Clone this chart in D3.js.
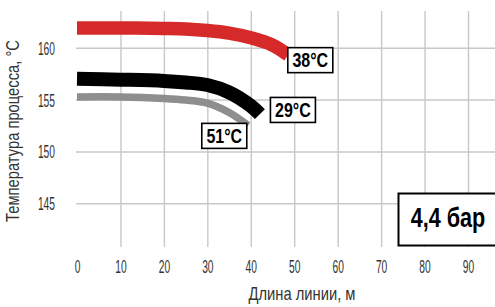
<!DOCTYPE html>
<html>
<head>
<meta charset="utf-8">
<script src="https://cdn.jsdelivr.net/npm/d3@7"></script>
<style>
  html, body { margin: 0; padding: 0; background: #fff; }
  svg { display: block; }
</style>
</head>
<body>
<div id="chart"></div>
<script>
// Температура процесса vs длина линии, 4,4 бар — три кривые при разной температуре воды
const xTicks = [0, 10, 20, 30, 40, 50, 60, 70, 80, 90];
const yTicks = [145, 150, 155, 160];

const red38 = [[0, 161.9], [10, 161.9], [20, 161.85], [25, 161.8], [30, 161.65], [35, 161.4], [40, 160.95], [45, 160.25], [48.6, 159.3]];
const black29 = [[0, 157.0], [10, 156.92], [20, 156.8], [25, 156.65], [30, 156.4], [35, 155.7], [40, 154.4], [42.1, 153.6]];
const gray51 = [[0, 155.25], [10, 155.25], [20, 155.1], [25, 154.95], [30, 154.65], [35, 153.75], [39.4, 152.5]];

const seriesNames = ["38°C", "29°C", "51°C"];
// метки привязаны к точкам в координатах данных (центр рамки)
const labelPos = [[53.7, 158.8], [49.7, 154.0], [33.9, 151.5]];
const pressureLabel = "4,4 бар";

const W = 495, H = 307;
const FONT = "'Liberation Sans', Arial, sans-serif";
// в оригинале очень узкий шрифт — сжимаем по горизонтали
const SQ_TICK = 0.57, SQ_TITLE = 0.82, SQ_BOLD = 0.8;

const x = d3.scaleLinear().domain([0, 90]).range([77, 468]);
const y = d3.scaleLinear().domain([145, 160]).range([203.3, 47.7]);
const GRID_TOP = 11, GRID_BOT = 247, GRID_L = 76;

const svg = d3.select("#chart").append("svg")
  .attr("width", W).attr("height", H).attr("viewBox", `0 0 ${W} ${H}`);

// вертикальная сетка + подписи X
const gx = svg.append("g").attr("transform", `translate(0,${GRID_BOT})`)
  .call(d3.axisBottom(x).tickValues(xTicks).tickSize(-(GRID_BOT - GRID_TOP)).tickFormat(d3.format("d")));
gx.select(".domain").remove();
gx.selectAll(".tick line").attr("stroke", "#c8c8c8").attr("stroke-width", 1.4)
  .filter(d => d === 0).remove();
gx.selectAll(".tick text")
  .attr("y", 26.5).attr("dy", null)
  .attr("transform", `scale(${SQ_TICK},1)`)
  .attr("style", `font:18px ${FONT};fill:#333`);

// горизонтальная сетка + подписи Y
const gy = svg.append("g").attr("transform", `translate(${GRID_L},0)`)
  .call(d3.axisLeft(y).tickValues(yTicks).tickSize(-(W - GRID_L)).tickFormat(d3.format("d")));
gy.select(".domain").remove();
gy.selectAll(".tick line").attr("stroke", "#c8c8c8").attr("stroke-width", 1.4);
gy.selectAll(".tick text")
  .attr("x", -21 / SQ_TICK).attr("dy", "0.36em")
  .attr("transform", `scale(${SQ_TICK},1)`)
  .attr("style", `font:18px ${FONT};fill:#333`);

// подписи осей
svg.append("text")
  .attr("transform", `translate(19,131) rotate(-90) scale(${SQ_TITLE},1)`)
  .attr("text-anchor", "middle")
  .attr("style", `font:18px ${FONT};fill:#333`)
  .text("Температура процесса, °С");
svg.append("text")
  .attr("transform", `translate(302,300) scale(${SQ_TITLE},1)`)
  .attr("text-anchor", "middle")
  .attr("style", `font:18px ${FONT};fill:#333`)
  .text("Длина линии, м");

// кривые
const line = d3.line().x(d => x(d[0])).y(d => y(d[1])).curve(d3.curveCatmullRom.alpha(0.5));
const curves = [
  { data: red38, color: "#d62a2a", width: 13.5 },
  { data: black29, color: "#000", width: 14 },
  { data: gray51, color: "#8e8e8e", width: 7.5 },
];
curves.slice().reverse().forEach(c => {
  svg.append("path").attr("d", line(c.data))
    .attr("fill", "none").attr("stroke", c.color)
    .attr("stroke-width", c.width).attr("stroke-linecap", "butt");
});

// метки температур
seriesNames.forEach((name, i) => {
  const cx = x(labelPos[i][0]), cy = y(labelPos[i][1]);
  const g = svg.append("g").attr("transform", `translate(${cx},${cy})`);
  g.append("rect").attr("x", -22.5).attr("y", -12.5).attr("width", 45).attr("height", 25)
    .attr("fill", "#fff").attr("stroke", "#000").attr("stroke-width", 1.6);
  g.append("text").attr("text-anchor", "middle").attr("y", 7)
    .attr("transform", `scale(${SQ_BOLD},1)`)
    .attr("style", `font:bold 20px ${FONT};fill:#000`).text(name);
});

// давление
const pg = svg.append("g");
pg.append("rect").attr("x", 398.5).attr("y", 193.5).attr("width", 100).attr("height", 52)
  .attr("fill", "#fff").attr("stroke", "#000").attr("stroke-width", 2);
pg.append("text").attr("transform", `translate(448,227) scale(${SQ_BOLD},1)`)
  .attr("text-anchor", "middle")
  .attr("style", `font:bold 27px ${FONT};fill:#000`).text(pressureLabel);
</script>
</body>
</html>
